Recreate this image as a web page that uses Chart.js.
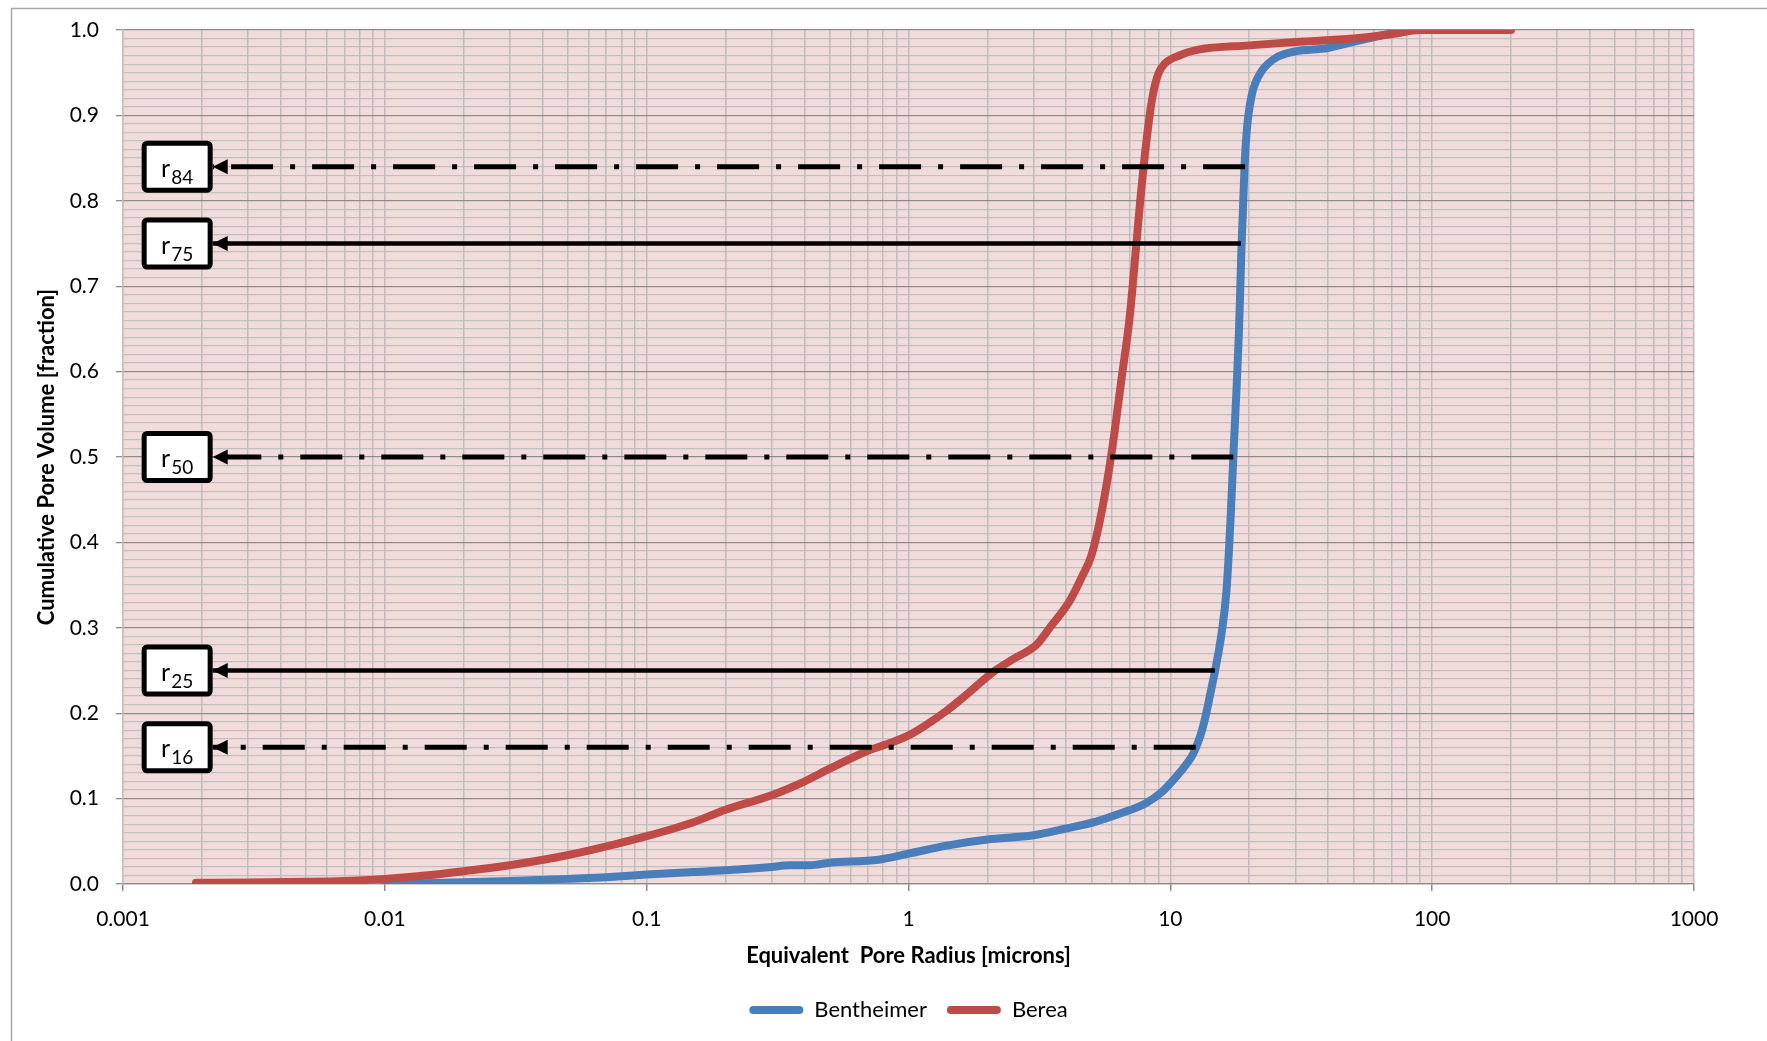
<!DOCTYPE html>
<html>
<head>
<meta charset="utf-8">
<script src="https://cdn.jsdelivr.net/npm/chart.js@4.4.1/dist/chart.umd.min.js"></script>
<style>
  html, body { margin: 0; padding: 0; background: #fff; }
  canvas { display: block; }
</style>
</head>
<body>
<canvas id="poreChart" width="1767" height="1041"></canvas>
<script>
// pore radius [microns] vs cumulative pore volume [fraction]
const benthRadius = [0.01, 0.02, 0.03, 0.05, 0.07, 0.1, 0.15, 0.2, 0.3, 0.35, 0.42, 0.5, 0.77, 1.0, 1.4, 2.0, 3.0, 4.0, 5.2, 6.5, 8.0, 9.3, 10.7, 11.5, 12.2, 13.0, 13.6, 14.2, 14.8, 15.7, 16.4, 17.0, 17.4, 17.9, 18.3, 18.7, 19.2, 19.6, 20.4, 22, 23.7, 25.8, 30, 40, 50, 70, 85, 100];
const benthVolume = [0, 0.002, 0.0035, 0.006, 0.008, 0.011, 0.014, 0.016, 0.02, 0.022, 0.022, 0.025, 0.0285, 0.0355, 0.045, 0.052, 0.057, 0.065, 0.073, 0.083, 0.094, 0.108, 0.128, 0.14, 0.152, 0.173, 0.195, 0.222, 0.249, 0.294, 0.345, 0.43, 0.5, 0.58, 0.65, 0.746, 0.839, 0.883, 0.922, 0.949, 0.961, 0.969, 0.975, 0.979, 0.986, 0.996, 1.0, 1.0];

const bereaRadius = [0.0019, 0.003, 0.005, 0.007, 0.01, 0.015, 0.02, 0.03, 0.045, 0.06, 0.1, 0.15, 0.2, 0.3, 0.4, 0.5, 0.7, 0.85, 1.0, 1.15, 1.4, 1.7, 2.1, 2.5, 3.1, 3.5, 4.1, 4.6, 5.0, 5.5, 6.0, 6.5, 7.0, 7.4, 7.7, 7.9, 8.2, 8.55, 9.0, 9.55, 11, 12.8, 20, 30, 50, 70, 90, 200];
const bereaVolume = [0.0015, 0.0017, 0.0025, 0.0035, 0.006, 0.0105, 0.015, 0.022, 0.031, 0.039, 0.056, 0.072, 0.087, 0.104, 0.12, 0.135, 0.156, 0.165, 0.174, 0.185, 0.203, 0.224, 0.248, 0.263, 0.281, 0.302, 0.33, 0.36, 0.385, 0.44, 0.51, 0.59, 0.665, 0.746, 0.805, 0.839, 0.883, 0.922, 0.949, 0.961, 0.971, 0.977, 0.982, 0.986, 0.99, 0.995, 1.0, 1.0];

const seriesNames = ['Bentheimer', 'Berea'];
const seriesColors = ['#4a7ebb', '#be4b48'];

// r-percentile arrows: from the Bentheimer curve back to the labelled box
const markerLabels = ['84', '75', '50', '25', '16'];
const markerLevels = [0.84, 0.75, 0.5, 0.25, 0.16];
const markerFrom = [19.3, 18.6, 17.4, 14.8, 12.5];
const markerTo = [0.0022, 0.0022, 0.0022, 0.0022, 0.0022];
const markerDashed = [true, false, true, false, true];

const xDecades = [0.001, 0.01, 0.1, 1, 10, 100, 1000];
const xTickLabels = ['0.001', '0.01', '0.1', '1', '10', '100', '1000'];
const yTickLabels = ['0.0', '0.1', '0.2', '0.3', '0.4', '0.5', '0.6', '0.7', '0.8', '0.9', '1.0'];

const FONT = 'Lato';

// gridline positions: 1..9 in every decade, labels only on the decades
const xTicks = [];
xDecades.forEach((d, i) => {
  if (i === xDecades.length - 1) {
    xTicks.push({ value: d, label: xTickLabels[i] });
    return;
  }
  for (let m = 1; m < 10; m++) {
    xTicks.push({ value: parseFloat((d * m).toPrecision(6)), label: m === 1 ? xTickLabels[i] : '' });
  }
});
const yTicks = [];
for (let i = 0; i <= 100; i++) yTicks.push(i / 100);

const decor = {
  id: 'decor',
  beforeDraw(chart) {
    const { ctx, chartArea: a } = chart;
    ctx.save();
    ctx.fillStyle = '#f2dcdb';
    ctx.fillRect(a.left, a.top, a.right - a.left, a.bottom - a.top);
    ctx.strokeStyle = '#a6a6a6';
    ctx.lineWidth = 1.5;
    ctx.strokeRect(11.5, 8.5, chart.width + 40, chart.height + 40);
    ctx.restore();
  },
  afterDatasetsDraw(chart) {
    const { ctx, scales: { x, y } } = chart;
    ctx.save();
    markerLabels.forEach((lab, i) => {
      const tx = x.getPixelForValue(markerTo[i]);
      const ty = y.getPixelForValue(markerLevels[i]);
      // arrow head
      ctx.fillStyle = '#000';
      ctx.beginPath();
      ctx.moveTo(tx, ty);
      ctx.lineTo(tx + 15, ty - 7.5);
      ctx.lineTo(tx + 15, ty + 7.5);
      ctx.closePath();
      ctx.fill();
      // box
      const w = 71, h = 52;
      ctx.beginPath();
      ctx.roundRect(tx - w + 2.5, ty - h / 2 + 2.5, w - 5, h - 5, 3);
      ctx.fillStyle = '#fff';
      ctx.fill();
      ctx.lineWidth = 5;
      ctx.strokeStyle = '#000';
      ctx.stroke();
      // r with subscript
      ctx.fillStyle = '#000';
      ctx.textBaseline = 'alphabetic';
      ctx.textAlign = 'left';
      ctx.font = '25px ' + FONT;
      const rw = ctx.measureText('r').width;
      ctx.font = '19px ' + FONT;
      const sw = ctx.measureText(lab).width;
      const cx = tx - w / 2;
      const x0 = cx - (rw + sw + 1) / 2;
      ctx.font = '25px ' + FONT;
      ctx.fillText('r', x0, ty + 10);
      ctx.font = '19px ' + FONT;
      ctx.fillText(lab, x0 + rw + 1, ty + 17);
    });
    ctx.restore();
  }
};

const curveSets = [
  { radius: benthRadius, volume: benthVolume, order: 2 },
  { radius: bereaRadius, volume: bereaVolume, order: 1 }
].map((s, k) => ({
  label: seriesNames[k],
  data: s.radius.map((r, j) => ({ x: r, y: s.volume[j] })),
  borderColor: seriesColors[k],
  backgroundColor: seriesColors[k],
  borderWidth: 8,
  borderCapStyle: 'round',
  borderJoinStyle: 'round',
  cubicInterpolationMode: 'monotone',
  pointRadius: 0,
  order: s.order
}));

const markerSets = markerLabels.map((lab, i) => ({
  label: 'r' + lab,
  data: [{ x: markerFrom[i], y: markerLevels[i] }, { x: markerTo[i], y: markerLevels[i] }],
  borderColor: '#000',
  backgroundColor: '#000',
  borderWidth: markerDashed[i] ? 5 : 4.5,
  borderDash: markerDashed[i] ? [42, 17, 5, 17] : [],
  borderCapStyle: 'butt',
  pointRadius: 0,
  order: 0
}));

new Chart(document.getElementById('poreChart'), {
  type: 'line',
  data: { datasets: curveSets.concat(markerSets) },
  plugins: [decor],
  options: {
    responsive: false,
    animation: false,
    layout: { padding: { left: 0, top: 30, right: 73, bottom: 10 } },
    plugins: {
      tooltip: { enabled: false },
      legend: {
        position: 'bottom',
        fullSize: false,
        labels: {
          font: { family: FONT, size: 22 },
          color: '#000',
          boxWidth: 54,
          boxHeight: 8,
          padding: 20,
          useBorderRadius: true,
          borderRadius: 4,
          filter: item => item.datasetIndex < seriesNames.length,
          sort: (a, b) => a.datasetIndex - b.datasetIndex,
          generateLabels: chart =>
            Chart.defaults.plugins.legend.labels.generateLabels(chart).map(l => Object.assign(l, { lineWidth: 0 }))
        }
      }
    },
    scales: {
      x: {
        type: 'logarithmic',
        min: 0.001,
        max: 1000,
        afterBuildTicks: s => { s.ticks = xTicks.map(t => ({ value: t.value })); },
        afterFit: s => { s.height = 95; },
        ticks: {
          autoSkip: false,
          maxRotation: 0,
          padding: 16,
          color: '#000',
          font: { family: FONT, size: 21 },
          callback: (v, i) => xTicks[i].label
        },
        grid: {
          color: '#bdbdbd',
          lineWidth: 1.5,
          tickLength: 7,
          tickColor: c => (xTicks[c.index] && xTicks[c.index].label ? '#8c8c8c' : 'rgba(0,0,0,0)')
        },
        border: { color: '#8c8c8c', width: 1.3 },
        title: {
          display: true,
          text: 'Equivalent  Pore Radius [microns]',
          color: '#000',
          font: { family: FONT, size: 22, weight: 'bold' },
          padding: { top: 0, bottom: 10 }
        }
      },
      y: {
        min: 0,
        max: 1,
        afterBuildTicks: s => { s.ticks = yTicks.map(v => ({ value: v })); },
        afterFit: s => { s.width = 123; },
        ticks: {
          autoSkip: false,
          padding: 17,
          color: '#000',
          font: { family: FONT, size: 21 },
          callback: (v, i) => (i % 10 === 0 ? yTickLabels[i / 10] : '')
        },
        grid: {
          color: c => (c.index % 10 === 0 ? '#8c8c8c' : '#bfbfbf'),
          lineWidth: 1.3,
          tickLength: 7,
          tickColor: c => (c.index % 10 === 0 ? '#8c8c8c' : 'rgba(0,0,0,0)')
        },
        border: { color: '#bfbfbf', width: 1.3 },
        title: {
          display: true,
          text: 'Cumulative Pore Volume [fraction]',
          color: '#000',
          font: { family: FONT, size: 22, weight: 'bold' },
          padding: { top: 34, bottom: 0 }
        }
      }
    }
  }
});
</script>
</body>
</html>
